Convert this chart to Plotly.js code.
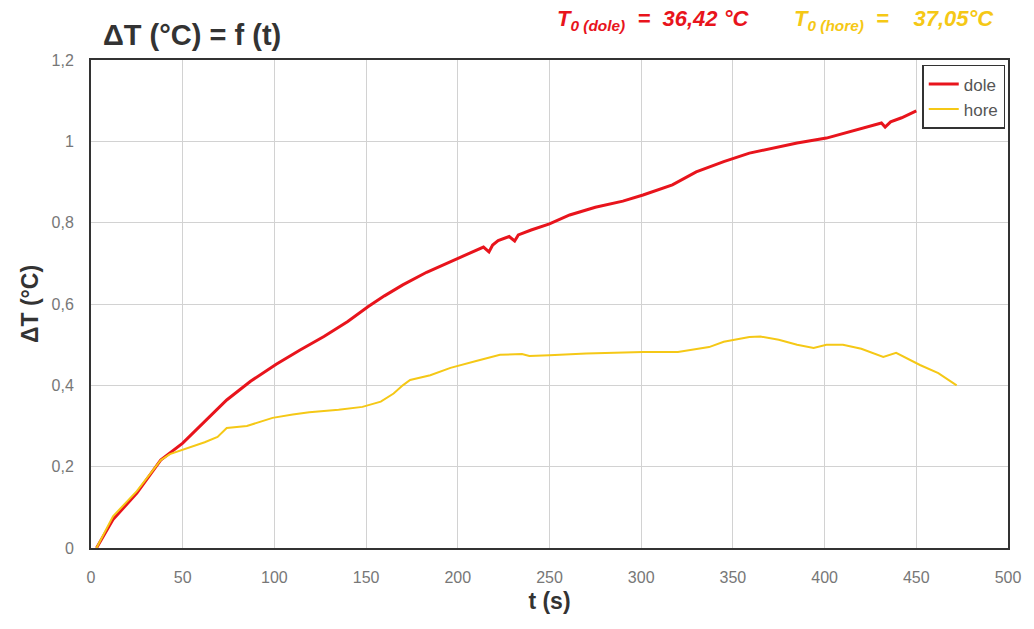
<!DOCTYPE html>
<html>
<head>
<meta charset="utf-8">
<script src="https://cdn.plot.ly/plotly-3.0.1.min.js"></script>
<style>html,body{margin:0;padding:0;background:#fff}#chart{width:1034px;height:629px}</style>
</head>
<body>
<div id="chart"></div>
<script>
const tDole = [3,12,25,38,50,62,74,87,101,114,127,140,151,160,170,183,196,205,214,217,219,222,228,231,233,240,250,261,275,290,301,317,330,345,359,370,385,401,415,425,431,433,436,442,450];
const dDole = [0,0.07,0.135,0.216,0.258,0.31,0.364,0.41,0.452,0.487,0.52,0.557,0.593,0.62,0.647,0.678,0.703,0.722,0.74,0.728,0.745,0.756,0.766,0.755,0.77,0.782,0.797,0.819,0.838,0.853,0.868,0.893,0.925,0.95,0.971,0.982,0.996,1.008,1.025,1.037,1.045,1.035,1.048,1.058,1.075];
const tHore = [3,12,25,38,43,54,62,69,74,85,99,110,119,135,148,158,165,170,174,185,196,210,223,235,239,250,270,301,320,337,345,359,365,375,385,394,401,410,420,432,439,452,462,472];
const dHore = [0,0.078,0.14,0.216,0.231,0.248,0.26,0.273,0.295,0.3,0.32,0.328,0.334,0.34,0.347,0.36,0.38,0.4,0.413,0.425,0.443,0.46,0.475,0.477,0.472,0.474,0.478,0.482,0.482,0.494,0.507,0.519,0.52,0.512,0.5,0.492,0.5,0.5,0.49,0.47,0.48,0.45,0.43,0.40];
const seriesNames = ['dole', 'hore'];
const xTicks = [0,50,100,150,200,250,300,350,400,450,500];
const yTicks = [0,0.2,0.4,0.6,0.8,1,1.2];

const traces = [
  {x: tDole, y: dDole, name: seriesNames[0], mode: 'lines', line: {color: '#e8141c', width: 3}},
  {x: tHore, y: dHore, name: seriesNames[1], mode: 'lines', line: {color: '#f5c816', width: 2}}
];

const layout = {
  width: 1034, height: 629,
  margin: {l: 91, r: 26, t: 60, b: 81},
  paper_bgcolor: '#fff', plot_bgcolor: '#fff',
  separators: ', ',
  font: {family: 'Liberation Sans, Arial, sans-serif', color: '#333'},
  title: {text: '<b>ΔT (°C) = f (t)</b>', x: 103/1034, xanchor: 'left', xref: 'container', y: 0.944, yanchor: 'middle', font: {size: 29, color: '#333'}},
  xaxis: {
    range: [0, 500], tickvals: xTicks, showgrid: true, gridcolor: '#d2d2d2', gridwidth: 1,
    showline: true, linecolor: '#333', linewidth: 2, mirror: true, zeroline: false,
    tickfont: {size: 16, color: '#777'}, ticks: '', ticklabelstandoff: 14,
    title: {text: '<b>t (s)</b>', font: {size: 23, color: '#333'}, standoff: 8}
  },
  yaxis: {
    range: [0, 1.2], tickvals: yTicks, showgrid: true, gridcolor: '#d2d2d2', gridwidth: 1,
    showline: true, linecolor: '#333', linewidth: 2, mirror: true, zeroline: false,
    tickfont: {size: 16, color: '#777'}, ticks: '', ticklabelstandoff: 12,
    title: {text: '<b>ΔT (°C)</b>', font: {size: 23, color: '#333'}, standoff: 6}
  },
  legend: {
    x: 0.997, xanchor: 'right', y: 0.99, yanchor: 'top',
    bgcolor: '#fff', bordercolor: '#333', borderwidth: 1.5,
    font: {size: 17, color: '#555'}, tracegroupgap: 0, itemwidth: 30
  },
  annotations: [
    {xref: 'paper', yref: 'paper', x: 0.506, y: 1.082, xanchor: 'left', yanchor: 'middle', showarrow: false,
     text: '<i><b>T<sub>0 (dole)</sub>&nbsp;&nbsp;=&nbsp;&nbsp;36,42 °C</b></i>', font: {size: 22, color: '#e8141c'}},
    {xref: 'paper', yref: 'paper', x: 0.764, y: 1.082, xanchor: 'left', yanchor: 'middle', showarrow: false,
     text: '<i><b>T<sub>0 (hore)</sub>&nbsp;&nbsp;=&nbsp;&nbsp;&nbsp;&nbsp;37,05°C</b></i>', font: {size: 22, color: '#f5c816'}}
  ]
};

Plotly.newPlot('chart', traces, layout, {displayModeBar: false, staticPlot: true});
</script>
</body>
</html>
